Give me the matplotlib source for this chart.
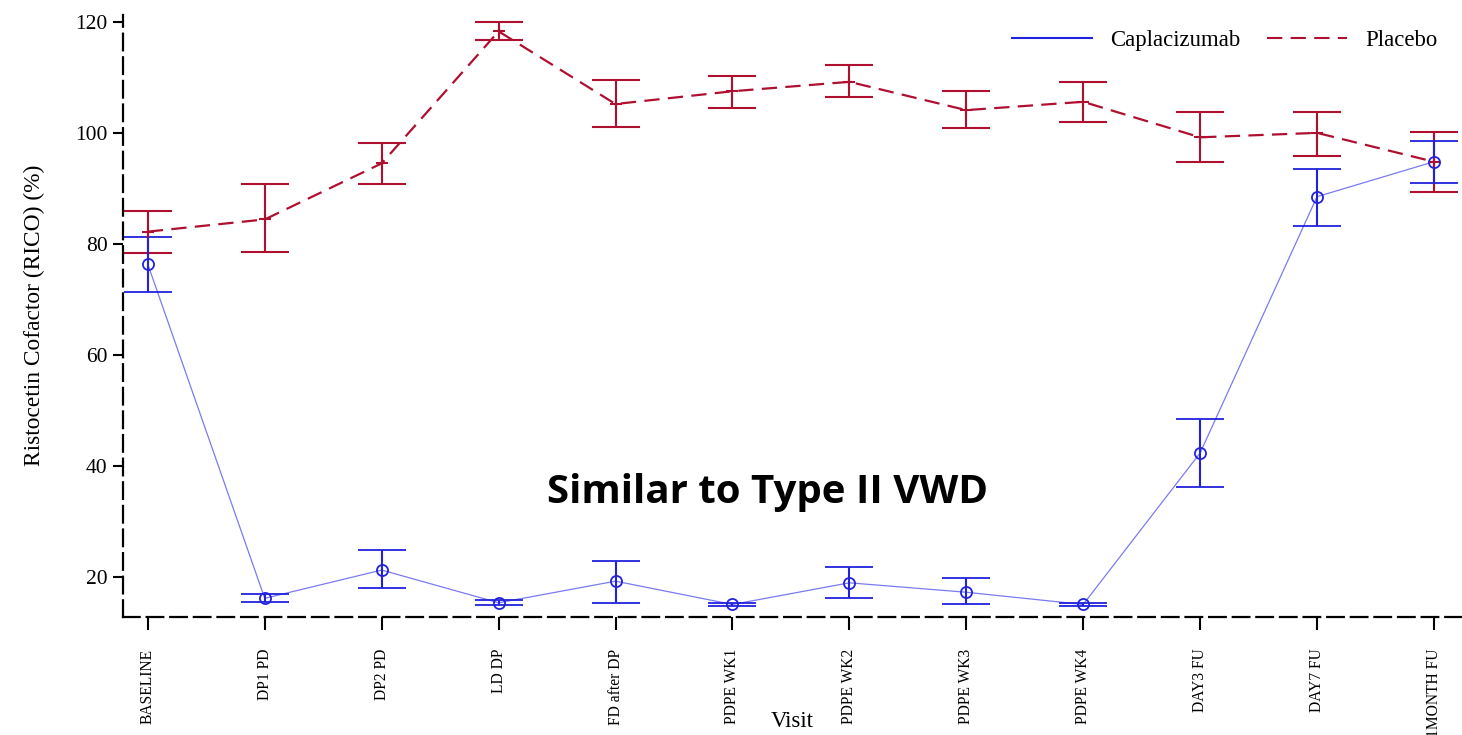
import matplotlib
matplotlib.use("Agg")
import matplotlib.pyplot as plt
from matplotlib.lines import Line2D

plt.rcParams['lines.scale_dashes'] = False
plt.rcParams['font.family'] = ['Liberation Serif', 'DejaVu Serif']

visits = ["BASELINE", "DP1 PD", "DP2 PD", "LD DP", "FD after DP", "PDPE WK1",
          "PDPE WK2", "PDPE WK3", "PDPE WK4", "DAY3 FU", "DAY7 FU", "1MONTH FU"]

capla_mean = [76.3, 16.1, 21.2, 15.3, 19.2, 15.0, 18.9, 17.2, 15.0, 42.3, 88.5, 94.8]
capla_low = [71.4, 15.5, 17.9, 14.9, 15.2, 14.8, 16.1, 15.0, 14.8, 36.1, 83.3, 91.0]
capla_high = [81.3, 16.9, 24.9, 15.8, 22.9, 15.2, 21.7, 19.7, 15.2, 48.5, 93.4, 98.5]

plac_mean = [82.2, 84.4, 94.5, 118.3, 105.2, 107.5, 109.2, 104.1, 105.6, 99.2, 100.0, 94.8]
plac_low = [78.3, 78.5, 90.8, 116.8, 101.0, 104.4, 106.5, 100.8, 101.9, 94.8, 95.9, 89.4]
plac_high = [85.9, 90.8, 98.1, 120.0, 109.6, 110.3, 112.2, 107.5, 109.2, 103.8, 103.8, 100.2]

BLUE = "#2222dd"
BLUE_LINE = "#7b7bf0"
RED = "#b01030"

fig = plt.figure(figsize=(14.62, 7.35), dpi=100)
ax = fig.add_axes([0.084, 0.161, 0.916, 0.819])

x = list(range(len(visits)))

# Placebo
ax.plot(x, plac_mean, color=RED, lw=1.6, dashes=(11, 6), zorder=3)
ax.errorbar(x, plac_mean,
            yerr=[[m - l for m, l in zip(plac_mean, plac_low)],
                  [h - m for m, h in zip(plac_mean, plac_high)]],
            fmt='+', color=RED, ms=8, mew=1.5, ecolor=RED, elinewidth=1.5,
            capsize=17, capthick=1.5, zorder=4)

# Caplacizumab
ax.plot(x, capla_mean, color=BLUE_LINE, lw=0.9, zorder=3)
ax.errorbar(x, capla_mean,
            yerr=[[m - l for m, l in zip(capla_mean, capla_low)],
                  [h - m for m, h in zip(capla_mean, capla_high)]],
            fmt='o', color=BLUE, ms=8, mfc='none', mew=1.3, ecolor=BLUE,
            elinewidth=1.5, capsize=17, capthick=1.5, zorder=4)

ax.set_xlim(-0.214, 11.24)
ax.set_ylim(12.8, 121.3)
ax.set_yticks([20, 40, 60, 80, 100, 120])
ax.set_xticks(x)
ax.set_xticklabels(visits, rotation=90, fontsize=11.2)
ax.tick_params(axis='y', labelsize=15.5, length=7, width=1.5, direction='out', pad=4)
ax.tick_params(axis='x', length=9, width=1.5, direction='out', pad=14)

for s in ['top', 'right']:
    ax.spines[s].set_visible(False)
for s in ['left', 'bottom']:
    ax.spines[s].set_linewidth(1.6)
    ax.spines[s].set_linestyle((0, (12, 5)))

ax.set_ylabel("Ristocetin Cofactor (RICO) (%)", fontsize=16.8)
ax.yaxis.set_label_coords(-0.058, 0.5)
ax.set_xlabel("Visit", fontsize=16.5)
ax.xaxis.set_label_coords(0.5, -0.157)

handles = [Line2D([], [], color=BLUE, lw=1.5),
           Line2D([], [], color=RED, lw=1.5, dashes=(11, 6))]
ax.legend(handles, ["Caplacizumab", "Placebo"], loc='upper right', ncol=2,
          frameon=False, fontsize=16.4, handlelength=3.55, columnspacing=1.15,
          handletextpad=0.78, bbox_to_anchor=(0.997, 1.008))

ax.text(5.3, 35.2, "Similar to Type II VWD", fontsize=29, fontweight='bold',
        family=['Open Sans', 'DejaVu Sans'], ha='center', va='center')

fig.savefig("out.png", dpi=100)
